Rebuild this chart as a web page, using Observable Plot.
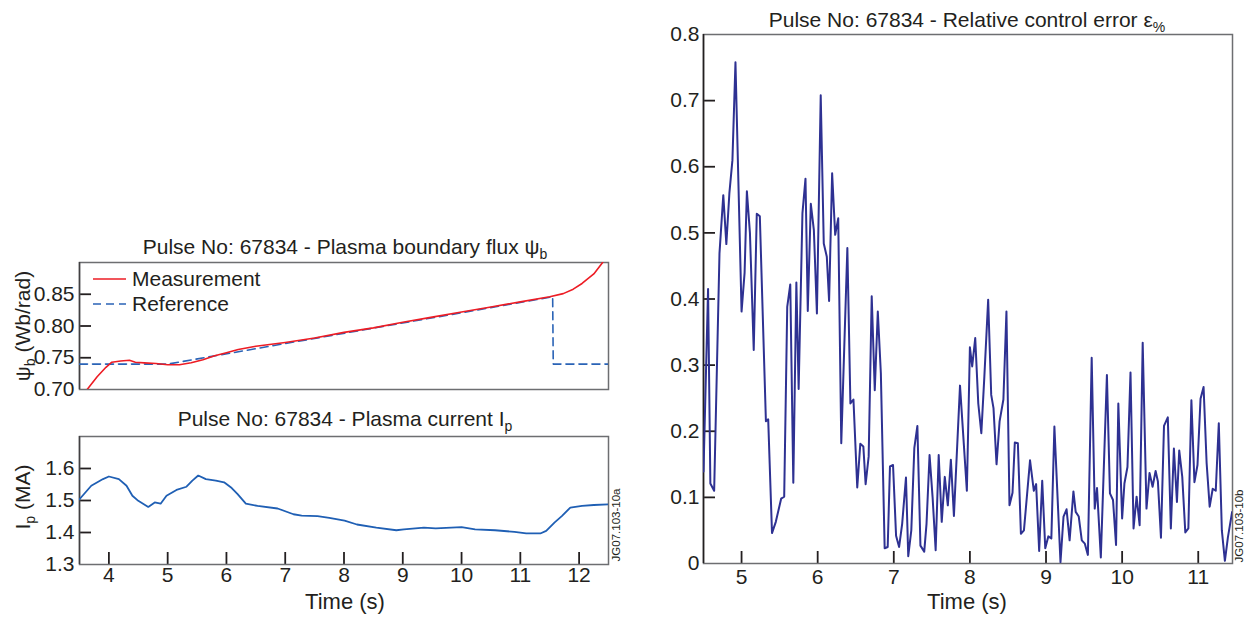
<!DOCTYPE html>
<html><head><meta charset="utf-8">
<script src="https://cdn.jsdelivr.net/npm/d3@7"></script>
<script src="https://cdn.jsdelivr.net/npm/@observablehq/plot@0.6"></script>
<style>
body{margin:0;background:#fff;font-family:"Liberation Sans",Arial,sans-serif;color:#231f20}
#root{position:relative;width:1251px;height:619px;overflow:hidden;background:#fff}
#root > svg{position:absolute;overflow:visible}
.t{position:absolute;transform:translate(-50%,-50%);white-space:nowrap;font-size:21px;line-height:1}
.t sub{font-size:14px;vertical-align:-5px;line-height:0}
.rot{transform:translate(-50%,-50%) rotate(-90deg)}
.code{font-size:11.5px}
.leg{position:absolute;font-size:21px;white-space:nowrap;line-height:1}
</style></head>
<body><div id="root"></div>
<script>
// ---- data ----
const fluxMeasT = [3.63,3.8,3.95,4.05,4.2,4.35,4.45,4.6,4.8,5.0,5.2,5.4,5.6,5.8,6.0,6.2,6.5,7.0,7.5,8.0,8.5,9.0,9.5,10.0,10.5,11.0,11.5,11.73,11.9,12.05,12.25,12.4];
const fluxMeasV = [0.700,0.720,0.735,0.743,0.745,0.746,0.743,0.742,0.741,0.739,0.739,0.742,0.747,0.753,0.758,0.763,0.768,0.774,0.781,0.790,0.797,0.806,0.814,0.822,0.830,0.838,0.846,0.851,0.858,0.867,0.882,0.900];
const fluxRefT = [3.5,5.0,11.55,11.56,12.5];
const fluxRefV = [0.740,0.740,0.846,0.740,0.740];
const ipT = [3.5,3.7,3.9,4.0,4.17,4.3,4.4,4.5,4.67,4.78,4.88,4.98,5.15,5.32,5.42,5.52,5.65,5.82,5.96,6.09,6.19,6.33,6.53,6.87,7.14,7.28,7.55,7.75,8.01,8.22,8.55,8.89,9.02,9.36,9.56,10.0,10.23,10.57,10.9,11.1,11.34,11.44,11.58,11.71,11.85,12.05,12.25,12.5];
const ipV = [1.504,1.546,1.567,1.575,1.567,1.546,1.515,1.499,1.480,1.494,1.490,1.515,1.533,1.543,1.562,1.578,1.567,1.562,1.557,1.539,1.520,1.490,1.483,1.475,1.457,1.453,1.451,1.446,1.437,1.425,1.415,1.407,1.410,1.415,1.413,1.417,1.410,1.407,1.402,1.397,1.397,1.405,1.431,1.452,1.478,1.483,1.486,1.488];
const errT = [4.50,4.56,4.59,4.64,4.71,4.76,4.80,4.84,4.88,4.92,5.00,5.04,5.07,5.11,5.16,5.20,5.24,5.32,5.35,5.40,5.45,5.52,5.56,5.60,5.64,5.68,5.72,5.75,5.80,5.84,5.87,5.91,5.95,5.99,6.04,6.08,6.12,6.15,6.19,6.23,6.27,6.31,6.39,6.43,6.47,6.52,6.56,6.60,6.63,6.67,6.71,6.75,6.79,6.83,6.88,6.92,6.95,6.99,7.03,7.07,7.11,7.16,7.19,7.23,7.27,7.31,7.35,7.40,7.43,7.47,7.51,7.55,7.59,7.63,7.67,7.71,7.75,7.79,7.87,7.96,8.00,8.03,8.07,8.11,8.15,8.19,8.24,8.28,8.31,8.35,8.39,8.44,8.48,8.52,8.56,8.59,8.63,8.67,8.71,8.79,8.84,8.87,8.91,8.95,8.99,9.03,9.07,9.11,9.19,9.23,9.27,9.31,9.36,9.39,9.43,9.47,9.51,9.55,9.60,9.64,9.67,9.72,9.80,9.84,9.88,9.92,9.95,10.00,10.03,10.07,10.11,10.15,10.19,10.23,10.27,10.32,10.36,10.40,10.44,10.47,10.51,10.55,10.60,10.64,10.68,10.72,10.75,10.79,10.83,10.87,10.91,10.95,10.99,11.03,11.07,11.11,11.15,11.19,11.23,11.27,11.31,11.35,11.39,11.445];
const errV = [0.139,0.415,0.121,0.110,0.469,0.557,0.483,0.560,0.610,0.758,0.381,0.440,0.563,0.500,0.323,0.529,0.525,0.215,0.218,0.046,0.063,0.098,0.101,0.388,0.422,0.122,0.425,0.264,0.530,0.582,0.382,0.544,0.504,0.378,0.708,0.484,0.464,0.397,0.590,0.497,0.522,0.182,0.477,0.242,0.248,0.115,0.181,0.177,0.120,0.162,0.404,0.262,0.381,0.288,0.023,0.025,0.147,0.149,0.042,0.025,0.060,0.130,0.011,0.050,0.175,0.208,0.027,0.018,0.060,0.164,0.100,0.020,0.164,0.063,0.131,0.088,0.157,0.072,0.269,0.110,0.327,0.298,0.341,0.242,0.197,0.283,0.399,0.255,0.235,0.150,0.215,0.248,0.381,0.088,0.107,0.183,0.182,0.045,0.050,0.156,0.110,0.120,0.019,0.125,0.023,0.041,0.038,0.207,0.002,0.071,0.082,0.035,0.109,0.078,0.071,0.035,0.030,0.013,0.311,0.083,0.114,0.009,0.285,0.106,0.096,0.028,0.242,0.068,0.121,0.146,0.289,0.053,0.101,0.058,0.334,0.083,0.137,0.116,0.140,0.124,0.039,0.208,0.221,0.053,0.174,0.093,0.171,0.131,0.047,0.053,0.247,0.123,0.149,0.249,0.267,0.152,0.086,0.113,0.110,0.212,0.050,0.004,0.040,0.078];

const leftXDomain = [3.5, 12.5];
const leftXTicks = [4,5,6,7,8,9,10,11,12];
const fluxYDomain = [0.70, 0.90];
const fluxYTicks = [0.70,0.75,0.80,0.85];
const ipYDomain = [1.3, 1.7];
const ipYTicks = [1.3,1.4,1.5,1.6];
const errXDomain = [4.5, 11.45];
const errXTicks = [5,6,7,8,9,10,11];
const errYDomain = [0, 0.8];
const errYTicks = [0,0.1,0.2,0.3,0.4,0.5,0.6,0.7,0.8];

const zip = (t, v) => t.map((d, i) => ({t: d, v: v[i]}));
const fluxMeas = zip(fluxMeasT, fluxMeasV);
const fluxRef = zip(fluxRefT, fluxRefV);
const ip = zip(ipT, ipV);
const err = zip(errT, errV);

const FONT = '"Liberation Sans", Arial, sans-serif';
const TXT = "#231f20";
const FRAME = "#6d6e71";
const TICK = 12;
const root = document.getElementById("root");

function place(svg, left, top) {
  svg.style.left = left + "px"; svg.style.top = top + "px";
  root.appendChild(svg);
}
const baseStyle = {fontFamily: FONT, fontSize: "21px", color: TXT, background: "transparent", overflow: "visible"};

// inward tick marks: short rules starting at the axis, TICK pixels long
const yTicksIn = (ticks, xDom, frameW) => {
  const len = (xDom[1] - xDom[0]) * TICK / frameW;
  return Plot.ruleY(ticks, {y: d => d, x1: () => xDom[0], x2: () => xDom[0] + len, stroke: TXT, strokeWidth: 1.8});
};
const xTicksIn = (ticks, yDom, frameH) => {
  const len = (yDom[1] - yDom[0]) * TICK / frameH;
  return Plot.ruleX(ticks, {x: d => d, y1: () => yDom[0], y2: () => yDom[0] + len, stroke: TXT, strokeWidth: 1.8});
};

// ---- top-left: flux ----
const W1 = 529, H1 = 127;
const p1 = Plot.plot({
  width: 79 + W1 + 3, height: 12 + H1 + 2, marginLeft: 79, marginRight: 3, marginTop: 12, marginBottom: 2,
  style: baseStyle,
  x: {domain: leftXDomain, axis: null},
  y: {domain: fluxYDomain, axis: null},
  marks: [
    Plot.axisY({ticks: fluxYTicks, tickSize: 0, tickPadding: 5, tickFormat: d3.format(".2f"), label: null}),
    yTicksIn(fluxYTicks.slice(1), leftXDomain, W1),
    Plot.frame({stroke: FRAME, strokeWidth: 1.5}),
    Plot.ruleX([leftXDomain[0]], {stroke: "#414042", strokeWidth: 1.5}),
    Plot.line(fluxRef, {x: "t", y: "v", stroke: "#2a63b6", strokeWidth: 1.6, strokeDasharray: "8,5", clip: true}),
    Plot.line(fluxMeas, {x: "t", y: "v", stroke: "#ed1c24", strokeWidth: 1.6, clip: true})
  ]
});
place(p1, 0, 250);

// ---- bottom-left: plasma current ----
const W2 = 529, H2 = 128;
const p2 = Plot.plot({
  width: 79 + W2 + 3, height: 6 + H2 + 30, marginLeft: 79, marginRight: 3, marginTop: 6, marginBottom: 30,
  style: baseStyle,
  x: {domain: leftXDomain, axis: null},
  y: {domain: ipYDomain, axis: null},
  marks: [
    Plot.axisY({ticks: ipYTicks, tickSize: 0, tickPadding: 5, tickFormat: d3.format(".1f"), label: null}),
    yTicksIn(ipYTicks.slice(1), leftXDomain, W2),
    Plot.axisX({ticks: leftXTicks, tickSize: 0, tickPadding: 3, tickFormat: d3.format("d"), label: null}),
    xTicksIn(leftXTicks, ipYDomain, H2),
    Plot.frame({stroke: FRAME, strokeWidth: 1.5}),
    Plot.ruleX([leftXDomain[0]], {stroke: "#414042", strokeWidth: 1.5}),
    Plot.line(ip, {x: "t", y: "v", stroke: "#1f5fb4", strokeWidth: 1.8, clip: true})
  ]
});
place(p2, 0, 430);

// ---- right: relative control error ----
const W3 = 529, H3 = 529;
const p3 = Plot.plot({
  width: 53 + W3 + 19, height: 14 + H3 + 30, marginLeft: 53, marginRight: 19, marginTop: 14, marginBottom: 30,
  style: baseStyle,
  x: {domain: errXDomain, axis: null},
  y: {domain: errYDomain, axis: null},
  marks: [
    Plot.axisY({ticks: errYTicks, tickSize: 0, tickPadding: 4, tickFormat: d3.format("~g"), label: null}),
    yTicksIn(errYTicks.slice(1, -1), errXDomain, W3),
    Plot.axisX({ticks: errXTicks, tickSize: 0, tickPadding: 6, tickFormat: d3.format("d"), label: null}),
    xTicksIn(errXTicks, errYDomain, H3),
    Plot.frame({stroke: FRAME, strokeWidth: 1.5}),
    Plot.ruleX([errXDomain[0]], {stroke: "#231f20", strokeWidth: 1.6}),
    Plot.line(err, {x: "t", y: "v", stroke: "#2e3192", strokeWidth: 2, clip: true})
  ]
});
place(p3, 650, 20);

// ---- text ----
function txt(html, x, y, cls) {
  const d = document.createElement("div");
  d.className = "t" + (cls ? " " + cls : "");
  d.innerHTML = html;
  d.style.left = x + "px"; d.style.top = y + "px";
  root.appendChild(d);
  return d;
}
txt("Pulse No: 67834 - Relative control error ε<sub>%</sub>", 967, 19);
txt("Pulse No: 67834 - Plasma boundary flux ψ<sub>b</sub>", 345, 246);
txt("Pulse No: 67834 - Plasma current I<sub>p</sub>", 345, 418);
txt("Time (s)", 345, 602).style.fontSize = "22px";
txt("Time (s)", 967, 602).style.fontSize = "22px";
txt("ψ<sub>b</sub> (Wb/rad)", 22, 326, "rot");
txt("I<sub>p</sub> (MA)", 22, 497, "rot");
txt("JG07.103-10a", 617, 525, "rot code");
txt("JG07.103-10b", 1240, 526, "rot code");

// legend (inside top-left panel)
const leg = document.createElement("div");
leg.className = "leg";
leg.style.left = "93px"; leg.style.top = "266px";
leg.innerHTML =
  '<div style="display:flex;align-items:center;height:25px"><svg width="34" height="10"><line x1="0" y1="5" x2="33" y2="5" stroke="#ed1c24" stroke-width="1.6"/></svg><span style="margin-left:5px">Measurement</span></div>' +
  '<div style="display:flex;align-items:center;height:25px"><svg width="34" height="10"><line x1="0" y1="5" x2="33" y2="5" stroke="#2a63b6" stroke-width="1.6" stroke-dasharray="8,5"/></svg><span style="margin-left:5px">Reference</span></div>';
root.appendChild(leg);
</script>
</body></html>
